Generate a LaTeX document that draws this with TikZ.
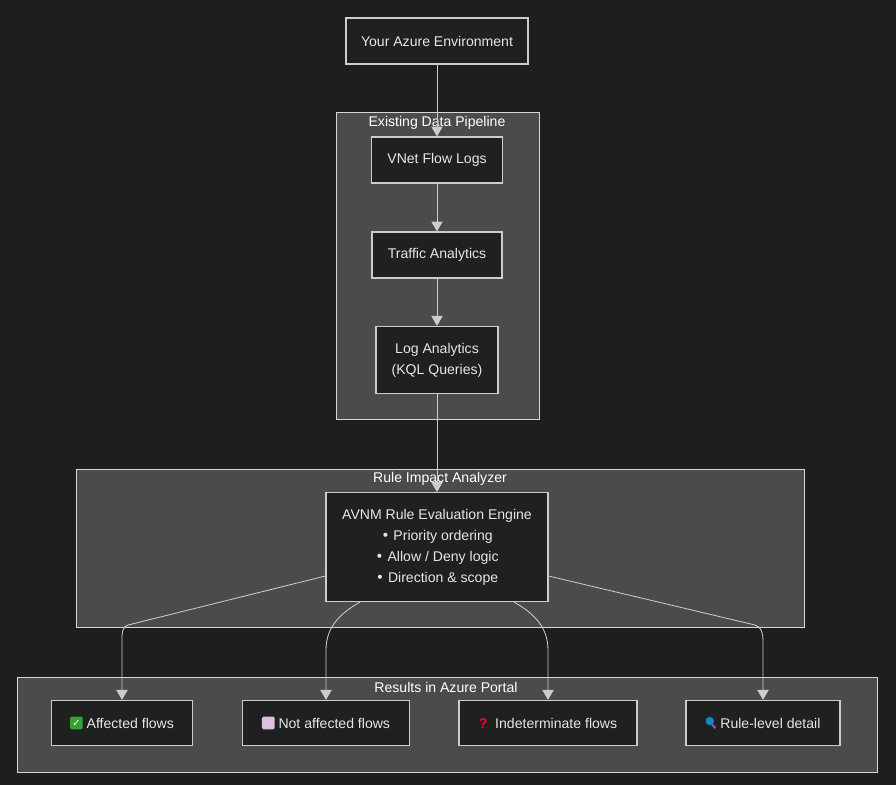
\documentclass[tikz,border=0pt]{standalone}
\usepackage{fontspec}
\setmainfont{Liberation Sans}
\newfontfamily\symfont{DejaVu Sans}
\usetikzlibrary{arrows.meta}
\definecolor{bgcol}{HTML}{1E1E1E}
\definecolor{boxcol}{HTML}{1F2020}
\definecolor{clustcol}{HTML}{4A4B4A}
\definecolor{linecol}{HTML}{CCCCCC}
\definecolor{txtcol}{HTML}{E6E6E6}
\tikzset{
  box/.style={draw=linecol, fill=boxcol, text=txtcol, line width=0.8pt, align=center,
    inner sep=0pt, font=\fontsize{10}{15}\selectfont},
  cluster/.style={draw=linecol!80, fill=clustcol, line width=0.6pt},
  ctitle/.style={text=white, font=\fontsize{10}{12}\selectfont},
  flow/.style={draw=linecol, line width=0.6pt, -{Triangle[length=7pt,width=8pt]}}
}
\newcommand{\ico}[2]{\tikz[x=1pt,y=1pt,baseline=0pt]\node[fill=#1, inner sep=0pt, minimum size=9pt, rounded corners=1pt, anchor=south] at (0,-0.5) {#2};}
\begin{document}
\begin{tikzpicture}[x=0.025cm, y=-0.025cm]
  \fill[bgcol] (0,0) rectangle (896,785);
  \useasboundingbox (0,0) rectangle (896,785);
  % clusters
  \draw[cluster] (336,112) rectangle (539,419);
  \node[ctitle] (pipe) at (437,123) {Existing Data Pipeline};
  \draw[cluster] (76,469) rectangle (804,627);
  \node[ctitle] (rule) at (440,479) {Rule Impact Analyzer};
  \draw[cluster] (17,677) rectangle (877,772);
  \node[ctitle] (res) at (446,687) {Results in Azure Portal};
  % nodes
  \node[box, minimum width=4.55cm, minimum height=1.15cm] (env) at (437,41) {Your Azure Environment};
  \node[box, minimum width=3.28cm, minimum height=1.15cm] (vnet) at (437,160) {VNet Flow Logs};
  \node[box, minimum width=3.25cm, minimum height=1.15cm] (ta) at (437,255) {Traffic Analytics};
  \node[box, minimum width=3.05cm, minimum height=1.68cm] (law) at (437,360) {Log Analytics\\(KQL Queries)};
  \node[box, minimum width=5.55cm, minimum height=2.72cm] (eng) at (437,547)
    {AVNM Rule Evaluation Engine\\{\symfont•} Priority ordering\\{\symfont•} Allow / Deny logic\\{\symfont•} Direction \& scope};
  \node[box, minimum width=3.52cm, minimum height=1.13cm] (aff) at (122,723)
    {\ico{green!55!black!80!white}{\color{white}\symfont\scriptsize✓}\ Affected flows};
  \node[box, minimum width=4.18cm, minimum height=1.13cm] (naff) at (326,723)
    {\ico{violet!25}{}\ Not affected flows};
  \node[box, minimum width=4.45cm, minimum height=1.13cm] (ind) at (548,723)
    {{\color{red!80!magenta}\bfseries ?}\ \ Indeterminate flows};
  \node[box, minimum width=3.85cm, minimum height=1.13cm] (det) at (763,723)
    {\tikz[x=1pt,y=1pt,baseline=0pt]{\draw[violet!70,line width=1.5pt] (4,2.5)--(6.5,0);\fill[cyan!70!blue] (2.5,5) circle (3pt);}\ Rule-level detail};
  % connectors
  \draw[flow] (env) -- (vnet);
  \draw[flow] (vnet) -- (ta);
  \draw[flow] (ta) -- (law);
  \draw[flow] (law) -- (eng);
  \draw[flow] (eng.west |- 0,576) -- (128,625) to[out=195,in=90] (122,640) -- (aff);
  \draw[flow] (360,602) to[out=210,in=90] (326,650) -- (naff);
  \draw[flow] (514,602) to[out=-30,in=90] (548,650) -- (ind);
  \draw[flow] (eng.east |- 0,576) -- (755,625) to[out=-15,in=90] (763,640) -- (det);
\end{tikzpicture}
\end{document}
